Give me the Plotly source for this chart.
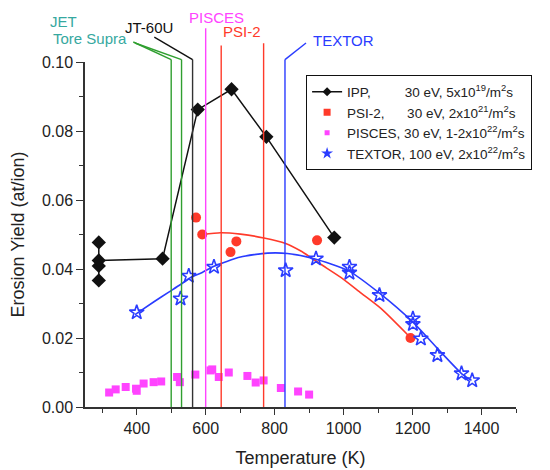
import plotly.graph_objects as go

# ---------------- data ----------------
ipp_T = [290, 290, 290, 290, 475, 577, 675, 776, 973]
ipp_Y = [0.0477, 0.0367, 0.0409, 0.0425, 0.0430, 0.0862, 0.0921, 0.0783, 0.0491]

psi_T = [572, 590, 672, 689, 923, 1194]
psi_Y = [0.0549, 0.0500, 0.0449, 0.0480, 0.0483, 0.0200]

psi_fit_T = [590, 643, 701, 769, 832, 876, 935, 993, 1051, 1109, 1190]
psi_fit_Y = [0.0500, 0.0505, 0.0501, 0.0490, 0.0474, 0.0452, 0.0413, 0.0375, 0.0330, 0.0285, 0.0205]

pisces_T = [320, 339, 368, 398, 400, 420, 449, 471, 517, 525, 570, 614, 619, 638, 667, 721, 745, 768, 818, 868, 900]
pisces_Y = [0.0042, 0.0051, 0.0058, 0.0053, 0.0047, 0.0068, 0.0072, 0.0074, 0.0087, 0.0072, 0.0094,
            0.0106, 0.0109, 0.0087, 0.0100, 0.0090, 0.0071, 0.0077, 0.0055, 0.0045, 0.0036]

textor_T = [400, 527, 551, 624, 832, 920, 1017, 1017, 1104, 1201, 1201, 1224, 1272, 1342, 1373]
textor_Y = [0.0274, 0.0314, 0.0380, 0.0406, 0.0396, 0.0430, 0.0406, 0.0389, 0.0324, 0.0256,
            0.0240, 0.0198, 0.0150, 0.0097, 0.0077]

textor_fit_T = [395, 450, 493, 527, 556, 590, 624, 701, 779, 837, 915, 1012, 1104, 1201, 1270, 1342, 1371]
textor_fit_Y = [0.0268, 0.0305, 0.0333, 0.0355, 0.0375, 0.0390, 0.0408, 0.0435, 0.0446, 0.0445,
                0.0430, 0.0396, 0.0330, 0.0246, 0.0172, 0.0097, 0.0077]

# wall temperatures of devices
device_names = ["JET", "Tore Supra", "JT-60U", "PISCES", "PSI-2", "PSI-2", "TEXTOR"]
device_T = [500, 530, 562, 600, 645, 768, 830]

x_ticks = [400, 600, 800, 1000, 1200, 1400]
y_ticks = [0.00, 0.02, 0.04, 0.06, 0.08, 0.10]

legend_labels = [
    "IPP,\u00a0\u00a0\u00a0\u00a0\u00a0\u00a0\u00a0\u00a0 30 eV, 5x10<sup>19</sup>/m<sup>2</sup>s",
    "PSI-2,\u00a0\u00a0\u00a0\u00a0\u00a0 30 eV, 2x10<sup>21</sup>/m<sup>2</sup>s",
    "PISCES, 30 eV, 1-2x10<sup>22</sup>/m<sup>2</sup>s",
    "TEXTOR, 100 eV, 2x10<sup>22</sup>/m<sup>2</sup>s",
]

# ---------------- styles ----------------
FONT = "Arial, 'Liberation Sans', sans-serif"
BLACK = "#111111"
RED = "#ff3a2a"
MAG = "#ff44ff"
BLUE = "#2a3cff"
GREEN = "#2f9f2f"
TEAL = "#36a8a0"

fig = go.Figure()

# fit curves
fig.add_trace(go.Scatter(x=psi_fit_T, y=psi_fit_Y, mode="lines", line=dict(color=RED, width=1.6, shape="spline", smoothing=0.6),
                         showlegend=False, hoverinfo="skip"))
fig.add_trace(go.Scatter(x=textor_fit_T, y=textor_fit_Y, mode="lines", line=dict(color=BLUE, width=1.6, shape="spline", smoothing=0.6),
                         showlegend=False, hoverinfo="skip"))

# data
fig.add_trace(go.Scatter(x=pisces_T, y=pisces_Y, mode="markers",
                         marker=dict(symbol="square", size=8, color=MAG), showlegend=False))
fig.add_trace(go.Scatter(x=psi_T, y=psi_Y, mode="markers",
                         marker=dict(symbol="circle", size=10, color=RED), showlegend=False))
fig.add_trace(go.Scatter(x=textor_T, y=textor_Y, mode="markers",
                         marker=dict(symbol="star-open", size=11, color=BLUE, line=dict(width=1.6, color=BLUE)),
                         showlegend=False))
fig.add_trace(go.Scatter(x=ipp_T, y=ipp_Y, mode="lines+markers",
                         line=dict(color=BLACK, width=1.5),
                         marker=dict(symbol="diamond", size=11, color=BLACK), showlegend=False))

# legend-only entries
fig.add_trace(go.Scatter(x=[None], y=[None], mode="lines+markers", name=legend_labels[0],
                         line=dict(color=BLACK, width=1.5), marker=dict(symbol="diamond", size=7, color=BLACK)))
fig.add_trace(go.Scatter(x=[None], y=[None], mode="markers", name=legend_labels[1],
                         marker=dict(symbol="square", size=7, color=RED)))
fig.add_trace(go.Scatter(x=[None], y=[None], mode="markers", name=legend_labels[2],
                         marker=dict(symbol="square", size=5, color=MAG)))
fig.add_trace(go.Scatter(x=[None], y=[None], mode="markers", name=legend_labels[3],
                         marker=dict(symbol="star", size=9, color=BLUE)))

# device vertical lines + leaders
line_colors = [GREEN, GREEN, "#333333", MAG, RED, RED, BLUE]
line_tops = [1.007, 1.007, 1.007, 1.098, 1.048, 1.054, 1.007]
shapes = []
for t, c, top in zip(device_T, line_colors, line_tops):
    shapes.append(dict(type="line", xref="x", yref="paper", x0=t, x1=t, y0=0, y1=top,
                       line=dict(color=c, width=1.4), layer="above"))
# leader lines to labels
leaders = [
    (390, 1.058, device_T[0], 1.007, GREEN),
    (395, 1.055, device_T[1], 1.007, GREEN),
    (451, 1.072, device_T[2], 1.007, "#111111"),
    (891, 1.055, device_T[6], 1.007, BLUE),
]
for x0, y0, x1, y1, c in leaders:
    shapes.append(dict(type="line", xref="x", yref="paper", x0=x0, y0=y0, x1=x1, y1=y1,
                       line=dict(color=c, width=1.4), layer="above"))

annotations = [
    dict(text="JET", x=-0.051, y=1.118, color=TEAL),
    dict(text="Tore Supra", x=0.012, y=1.068, color=TEAL),
    dict(text="JT-60U", x=0.149, y=1.100, color="#111111"),
    dict(text="PISCES", x=0.304, y=1.130, color=MAG),
    dict(text="PSI-2", x=0.3645, y=1.089, color=RED),
    dict(text="TEXTOR", x=0.599, y=1.063, color=BLUE),
]
annots = [dict(text=a["text"], x=a["x"], y=a["y"], xref="paper", yref="paper", showarrow=False,
               xanchor="center", yanchor="middle", font=dict(family=FONT, size=15, color=a["color"]))
          for a in annotations]

axis_common = dict(showgrid=False, zeroline=False, linecolor="#333333", linewidth=1.5,
                   tickcolor="#333333", tickwidth=1.3, automargin=False,
                   tickfont=dict(family=FONT, size=16, color="#222222"))

# page body adds an 8px offset, so the figure is 8px smaller than the window
fig.update_layout(
    width=542, height=462, autosize=False,
    margin=dict(l=77, r=34, t=54, b=63),
    paper_bgcolor="white", plot_bgcolor="white",
    font=dict(family=FONT, color="#222222"),
    shapes=shapes, annotations=annots,
    xaxis=dict(range=[250, 1500], tickvals=x_ticks, ticks="outside", ticklen=6,
               minor=dict(dtick=100, tick0=0, ticks="outside", ticklen=4, tickcolor="#333333"),
               title=dict(text="Temperature (K)", font=dict(family=FONT, size=18, color="#222222")),
               **axis_common),
    yaxis=dict(range=[0, 0.1], tickvals=y_ticks, tickformat=".2f", ticks="outside", ticklen=7,
               minor=dict(dtick=0.01, tick0=0, ticks="outside", ticklen=4, tickcolor="#333333"),
               title=dict(text="Erosion Yield (at/ion)", font=dict(family=FONT, size=18, color="#222222")),
               **axis_common),
    xaxis2=dict(range=[250, 1500], overlaying="x", side="top", anchor="y", dtick=100, tick0=0,
                ticks="inside", ticklen=6, showticklabels=False, showline=True, automargin=False,
                linecolor="#333333", linewidth=1.5, tickcolor="#333333", showgrid=False, zeroline=False),
    yaxis2=dict(range=[0, 0.1], overlaying="y", side="right", anchor="x", dtick=0.01, tick0=0,
                ticks="inside", ticklen=7, showticklabels=False, showline=True, automargin=False,
                linecolor="#333333", linewidth=1.5, tickcolor="#333333", showgrid=False, zeroline=False),
    legend=dict(x=0.513, y=0.961, xanchor="left", yanchor="top", bgcolor="white",
                bordercolor="#111111", borderwidth=1, font=dict(family=FONT, size=13.5, color="#222222"),
                itemwidth=30, tracegroupgap=0),
)

fig.write_html("out.html")
